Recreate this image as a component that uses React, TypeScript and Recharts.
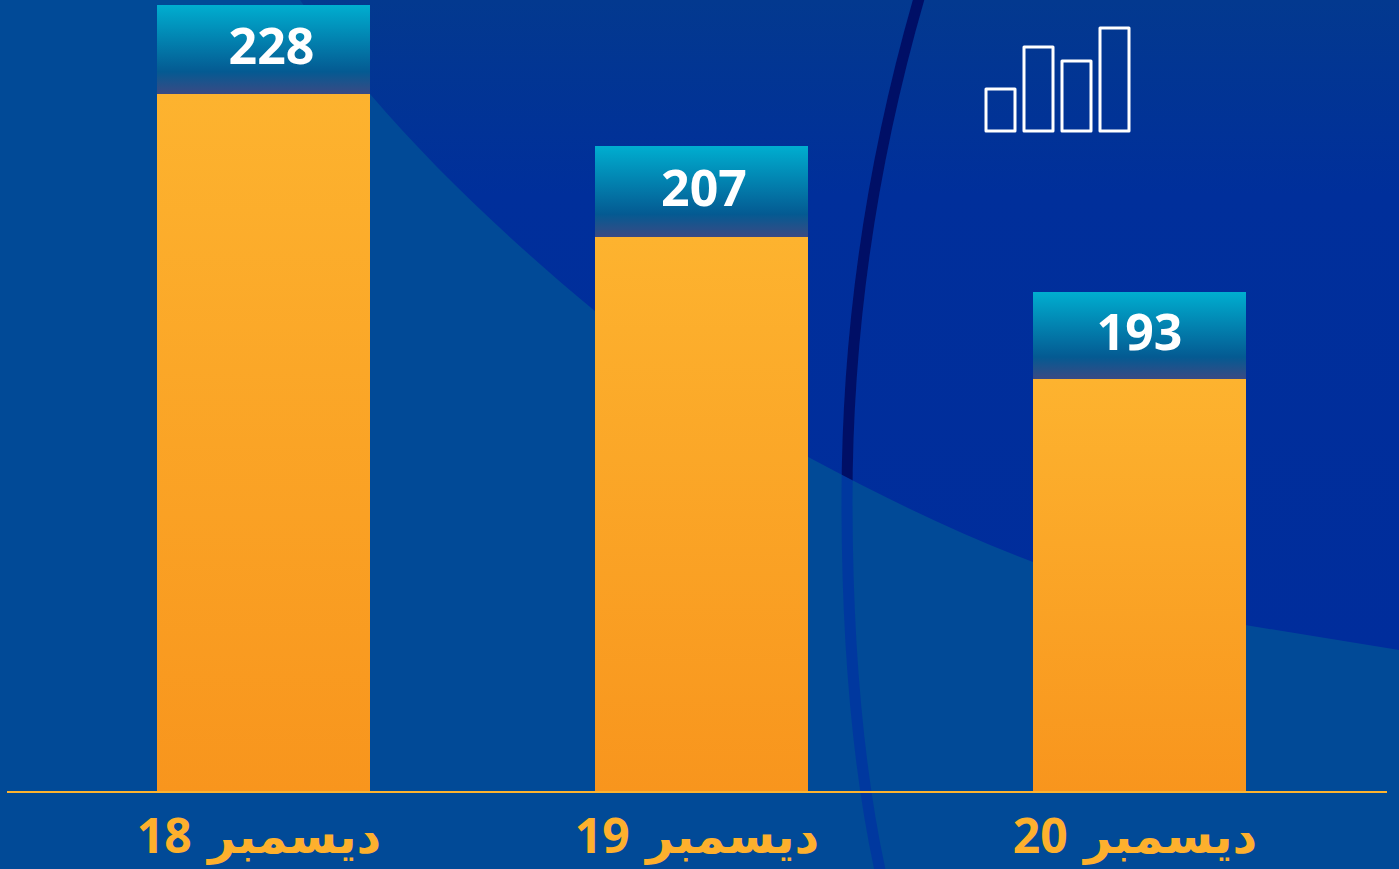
import React from "react";
import { BarChart, Bar, XAxis, YAxis, LabelList } from "recharts";

const categories = ["ديسمبر 18", "ديسمبر 19", "ديسمبر 20"];
const shownValues = [228, 207, 193];
const baseHeights = [139.6, 111, 82.6];
const capHeights = [17.8, 18.2, 17.4];
const rows = categories.map((name, i) => ({ name, base: baseHeights[i], cap: capHeights[i], shown: shownValues[i] }));

const labelShift = [8, 2.5, 0];
const curve = "M300 0 C 322 32 345 64 370 94 C 435 170 515 245 596 312 C 665 368 735 418 810 458 C 885 498 960 535 1033 562 C 1105 590 1175 610 1245 625 L 1399 650 L 1399 0 Z";
const arc = "M920 -5 C 875 150 847 320 847 500 C 847 640 858 770 881 875";

const ValueLabel = (props: any) => {
  const { x, y, width, height, index } = props;
  return (
    <text x={x + width / 2 + labelShift[index]} y={y + height / 2 - 5} textAnchor="middle" dominantBaseline="central"
      fill="#fff" fontFamily="'Noto Sans'" fontWeight={700} fontSize={50}>{shownValues[index]}</text>
  );
};

const Tick = (props: any) => {
  const { x, y, payload } = props;
  return (
    <text x={x - 4} y={y + 34} textAnchor="middle" dominantBaseline="central" fill="#fdb02d"
      fontFamily="'Noto Sans','DejaVu Sans'" fontWeight={700} fontSize={48} wordSpacing={4} direction="rtl">{payload.value}</text>
  );
};

export default function App() {
  return (
    <div style={{ position: "absolute", left: 0, top: 0, width: 1399, height: 869, overflow: "hidden", background: "#014a97" }}>
      <svg width={1399} height={869} style={{ position: "absolute", left: 0, top: 0 }}>
        <defs>
          <linearGradient id="bgBlue" x1="0" y1="0" x2="0" y2="1">
            <stop offset="0" stopColor="#03398f" />
            <stop offset="0.3" stopColor="#002f9b" />
            <stop offset="1" stopColor="#002d9c" />
          </linearGradient>
          <clipPath id="upper"><path d={curve} /></clipPath>
        </defs>
        <path d={curve} fill="url(#bgBlue)" />
        <path d={arc} fill="none" stroke="#00389f" strokeWidth={11} />
        <path d={arc} fill="none" stroke="#000f66" strokeWidth={11} clipPath="url(#upper)" />
        <g fill="none" stroke="#fff" strokeWidth={3} strokeLinejoin="round">
          <rect x={986} y={89} width={29} height={42} />
          <rect x={1024} y={47} width={29} height={84} />
          <rect x={1062} y={61} width={29} height={70} />
          <rect x={1100} y={28} width={29} height={103} />
        </g>
      </svg>
      <div style={{ position: "absolute", left: 0, top: 0 }}>
        <BarChart width={1399} height={869} data={rows} margin={{ top: 0, right: 12, bottom: 0, left: 7 }} barSize={213}>
          <defs>
            <linearGradient id="orangeFill" x1="0" y1="0" x2="0" y2="1">
              <stop offset="0" stopColor="#fdb32f" />
              <stop offset="1" stopColor="#f8951d" />
            </linearGradient>
            <linearGradient id="capFill" x1="0" y1="0" x2="0" y2="1">
              <stop offset="0" stopColor="#00aed0" />
              <stop offset="0.75" stopColor="#045a92" />
              <stop offset="1" stopColor="#3a4a84" />
            </linearGradient>
          </defs>
          <XAxis dataKey="name" height={77} interval={0} tick={<Tick />} tickLine={false}
            axisLine={{ stroke: "#fdb32f", strokeWidth: 2 }} padding={{ left: 37, right: 29 }} />
          <YAxis hide domain={[0, 158.4]} />
          <Bar dataKey="base" stackId="a" fill="url(#orangeFill)" isAnimationActive={false} />
          <Bar dataKey="cap" stackId="a" fill="url(#capFill)" isAnimationActive={false}>
            <LabelList dataKey="shown" content={<ValueLabel />} />
          </Bar>
        </BarChart>
      </div>
    </div>
  );
}
